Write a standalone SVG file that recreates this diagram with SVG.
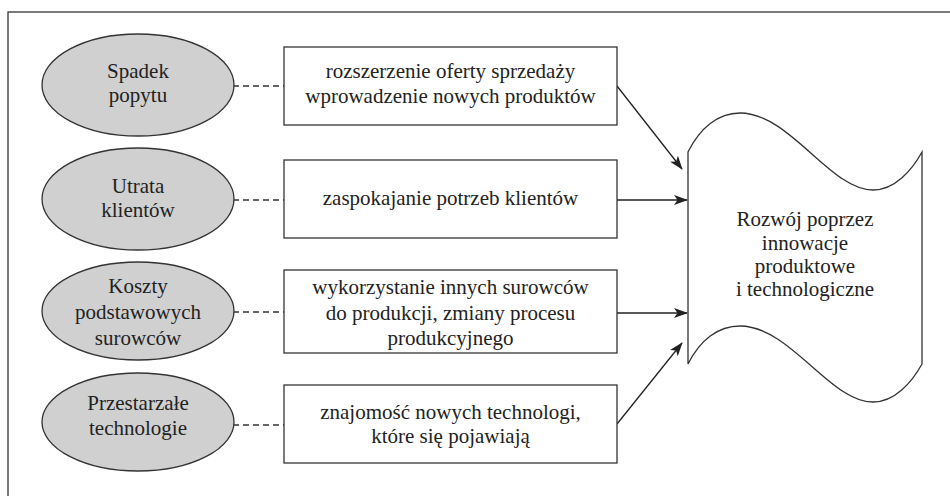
<svg xmlns="http://www.w3.org/2000/svg" width="950" height="496" viewBox="0 0 950 496">
<style>
text{font-size:21px;fill:#222;text-anchor:middle}
.ell{fill:#d0d0d0;stroke:#333;stroke-width:1.3}
.box{fill:#fff;stroke:#333;stroke-width:1.3}
.dash{stroke:#333;stroke-width:1.3;stroke-dasharray:6,4;fill:none}
.arr{stroke:#222;stroke-width:1.3;fill:none;marker-end:url(#ah)}
</style>
<defs>
<marker id="ah" markerUnits="userSpaceOnUse" markerWidth="14" markerHeight="10" refX="13" refY="5" orient="auto">
<path d="M0,0 L14,5 L0,10 L3.5,5 Z" fill="#222"/>
</marker>
</defs>
<rect x="8" y="12" width="960" height="500" fill="#fff" stroke="#333" stroke-width="1.3"/>
<g id="connectors">
<line class="dash" x1="213" y1="86" x2="284" y2="86"/>
<line class="dash" x1="213" y1="200" x2="284" y2="200"/>
<line class="dash" x1="213" y1="312" x2="284" y2="312"/>
<line class="dash" x1="213" y1="425" x2="284" y2="425"/>
<line class="arr" x1="617" y1="86" x2="682" y2="169"/>
<line class="arr" x1="617" y1="200" x2="687" y2="200"/>
<line class="arr" x1="617" y1="313" x2="687" y2="313"/>
<line class="arr" x1="617" y1="424" x2="682" y2="343"/>
</g>
<g font-family="'Liberation Serif', 'Times New Roman', 'DejaVu Serif', serif">
<g id="e1"><ellipse class="ell" cx="138" cy="85" rx="96" ry="51"/><text x="138" y="78">Spadek</text><text x="138" y="102">popytu</text></g>
<g id="e2"><ellipse class="ell" cx="138" cy="199" rx="96" ry="51"/><text x="138" y="193">Utrata</text><text x="138" y="217">klientów</text></g>
<g id="e3"><ellipse class="ell" cx="138" cy="311" rx="96" ry="49"/><text x="138" y="293">Koszty</text><text x="138" y="319">podstawowych</text><text x="138" y="345">surowców</text></g>
<g id="e4"><ellipse class="ell" cx="138" cy="422" rx="96" ry="49"/><text x="138" y="410">Przestarzałe</text><text x="138" y="435">technologie</text></g>
<g id="b1"><rect class="box" x="284" y="47" width="333" height="78"/><text x="450.5" y="78">rozszerzenie oferty sprzedaży</text><text x="450.5" y="103">wprowadzenie nowych produktów</text></g>
<g id="b2"><rect class="box" x="284" y="160" width="333" height="78"/><text x="450.5" y="205">zaspokajanie potrzeb klientów</text></g>
<g id="b3"><rect class="box" x="284" y="270" width="333" height="83"/><text x="450.5" y="294">wykorzystanie innych surowców</text><text x="450.5" y="320">do produkcji, zmiany procesu</text><text x="450.5" y="345">produkcyjnego</text></g>
<g id="b4"><rect class="box" x="284" y="385" width="333" height="78"/><text x="450.5" y="419">znajomość nowych technologi,</text><text x="450.5" y="443">które się pojawiają</text></g>
<g id="wave"><path d="M688,152 C700,128 718,113 740,113 C790,113 830,190 873,190 C895,190 912,170 922,152 L922,364 C912,382 895,402 873,402 C830,402 790,326 740,326 C718,326 700,340 688,364 Z" fill="#fff" stroke="#333" stroke-width="1.3"/>
<text x="805" y="226">Rozwój poprzez</text><text x="805" y="250">innowacje</text><text x="805" y="273">produktowe</text><text x="805" y="296">i technologiczne</text></g>
</g>
</svg>
